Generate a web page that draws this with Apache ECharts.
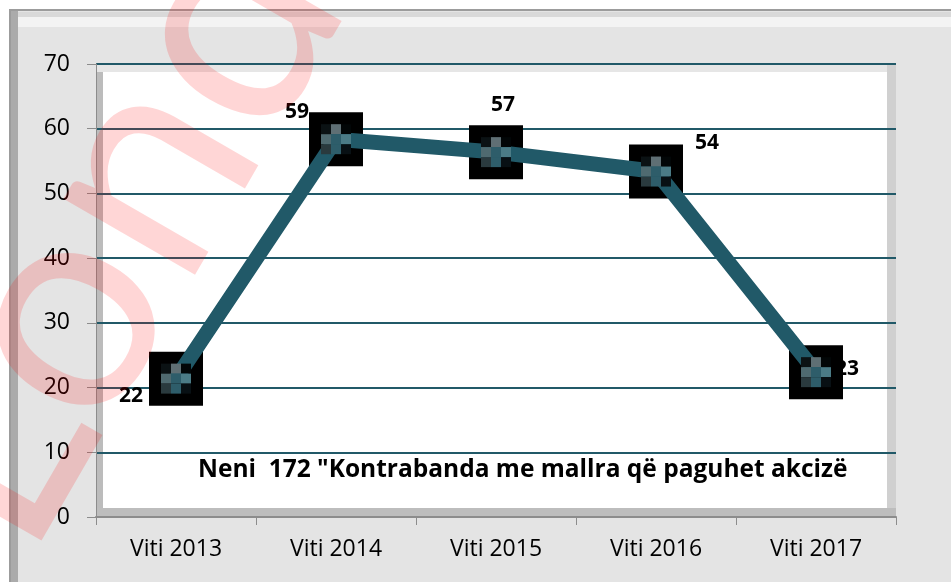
<!DOCTYPE html>
<html><head><meta charset="utf-8">
<script src="https://cdn.jsdelivr.net/npm/echarts@6/dist/echarts.min.js"></script>
<style>html,body{margin:0;padding:0;background:#fff}#c{width:951px;height:582px}</style>
</head><body><div id="c"></div>
<script>
var categories = ['Viti 2013', 'Viti 2014', 'Viti 2015', 'Viti 2016', 'Viti 2017'];
var values = [22, 59, 57, 54, 23];
var yTicks = [0, 10, 20, 30, 40, 50, 60, 70];
var chartTitle = 'Neni  172 "Kontrabanda me mallra që paguhet akcizë';
var watermark = 'Londip';

var labelOffsets = [[-45, 17], [-39, -27], [7, -47], [51, -29], [31, -3]];
var crossColors = [
  ['#0b1214', '#5f6f74', '#020607'],
  ['#4f6a70', '#2e5d6a', '#4b7b86'],
  ['#2a3a3e', '#2e5d6a', '#081014']
];

var chart = echarts.init(document.getElementById('c'), null, {renderer: 'canvas'});
var FONT = 'Open Sans';
var yMin = yTicks[0], yMax = yTicks[yTicks.length - 1];
var option = {
  animation: false,
  backgroundColor: '#ffffff',
  textStyle: {fontFamily: FONT},
  title: {
    text: chartTitle, left: 193, top: 453,
    textStyle: {fontFamily: FONT, fontWeight: 'bold', fontSize: 24.5, color: '#000'}
  },
  grid: [
    {left: 96, right: 55, top: 64, bottom: 65, containLabel: false},
    {left: 96, right: 55, top: 68, bottom: 61, containLabel: false}
  ],
  xAxis: [{
    type: 'category', data: categories, boundaryGap: true, gridIndex: 0,
    axisLine: {lineStyle: {color: '#8c8c8c', width: 2}},
    axisTick: {show: true, length: 8, lineStyle: {color: '#8c8c8c', width: 1}},
    axisLabel: {fontSize: 23, color: '#000', margin: 21, fontFamily: FONT},
    splitLine: {show: false}
  }, {
    type: 'category', data: categories, boundaryGap: true, gridIndex: 1, show: false
  }],
  yAxis: [{
    type: 'value', min: yMin, max: yMax, interval: 10, gridIndex: 0,
    axisLine: {show: true, lineStyle: {color: '#8c8c8c', width: 1}},
    axisTick: {show: true, length: 9, lineStyle: {color: '#8c8c8c'}},
    axisLabel: {fontSize: 23, color: '#000', margin: 26, fontFamily: FONT},
    splitLine: {show: true, lineStyle: {color: '#215968', width: 2}}
  }, {
    type: 'value', min: yMin, max: yMax, interval: 10, gridIndex: 1, show: false, splitLine: {show: false}
  }],
  graphic: [
    {type: 'rect', z: -100, shape: {x: 10, y: 10, width: 960, height: 600}, style: {fill: '#e4e4e4', stroke: '#9c9c9c', lineWidth: 2}},
    {type: 'rect', z: -99, shape: {x: 11, y: 11, width: 7, height: 600}, style: {fill: '#ababab'}},
    {type: 'rect', z: -99, shape: {x: 18, y: 12, width: 940, height: 5}, style: {fill: '#d9d9d9'}},
    {type: 'rect', z: -99, shape: {x: 18, y: 17, width: 940, height: 10}, style: {fill: '#f3f3f3'}},
    {type: 'rect', z: -98, shape: {x: 96, y: 64, width: 800, height: 453}, style: {fill: '#e6e6e6'}},
    {type: 'rect', z: -97, shape: {x: 96, y: 72, width: 7, height: 445}, style: {fill: '#bcbcbc'}},
    {type: 'rect', z: -97, shape: {x: 887, y: 64, width: 9, height: 453}, style: {fill: '#d0d0d0'}},
    {type: 'rect', z: -97, shape: {x: 96, y: 508, width: 800, height: 9}, style: {fill: '#bdbdbd'}},
    {type: 'rect', z: -96, shape: {x: 103, y: 72, width: 784, height: 436}, style: {fill: '#ffffff'}},
    {type: 'text', z: 100, x: -56, y: 516, rotation: 1.047,
      style: {text: watermark, font: '400 300px Lato', fill: 'rgba(255,0,0,0.16)', verticalAlign: 'middle', align: 'left'}}
  ],
  series: [
    {
      type: 'scatter', z: 1, xAxisIndex: 1, yAxisIndex: 1, data: values, symbolSize: 1,
      itemStyle: {color: 'rgba(0,0,0,0)', opacity: 1},
      label: {show: true, position: 'inside', fontSize: 21, fontWeight: 'bold', color: '#000', fontFamily: FONT,
        formatter: function (p) { return p.value; }},
      labelLayout: function (p) {
        var o = labelOffsets[p.dataIndex];
        return {dx: o[0], dy: o[1]};
      }
    },
    {
      type: 'scatter', z: 2, xAxisIndex: 1, yAxisIndex: 1, data: values, symbol: 'rect', symbolSize: 54,
      itemStyle: {color: '#000', opacity: 1}, silent: true
    },
    {
      type: 'line', z: 3, xAxisIndex: 1, yAxisIndex: 1, data: values, symbol: 'none',
      lineStyle: {color: '#215968', width: 15}
    },
    {
      type: 'custom', z: 4, xAxisIndex: 1, yAxisIndex: 1, data: values.map(function (v, i) { return [i, v]; }),
      renderItem: function (params, api) {
        var c = api.coord([api.value(0), api.value(1)]);
        var cell = 10, children = [];
        for (var r = 0; r < 3; r++) {
          for (var k = 0; k < 3; k++) {
            children.push({type: 'rect', shape: {x: c[0] - 15 + k * cell, y: c[1] - 15 + r * cell, width: cell, height: cell},
              style: {fill: crossColors[r][k]}});
          }
        }
        return {type: 'group', children: children};
      }
    }
  ]
};
chart.setOption(option);
</script></body></html>
